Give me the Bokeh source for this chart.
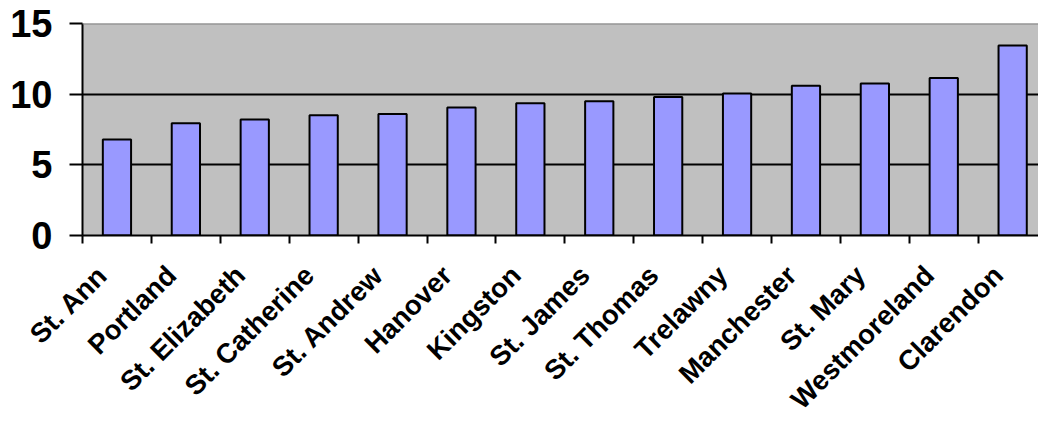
import math
from bokeh.plotting import figure
from bokeh.models import FixedTicker, Range1d, Span
from bokeh.embed import file_html
from bokeh.resources import INLINE

parishes = ["St. Ann", "Portland", "St. Elizabeth", "St. Catherine", "St. Andrew",
            "Hanover", "Kingston", "St. James", "St. Thomas", "Trelawny",
            "Manchester", "St. Mary", "Westmoreland", "Clarendon"]
values = [6.8, 7.95, 8.2, 8.5, 8.6, 9.05, 9.35, 9.5, 9.8, 10.05, 10.6, 10.75, 11.15, 13.45]
y_ticks = [0, 5, 10, 15]

idx = list(range(len(parishes)))
FONT = "Liberation Sans"

p = figure(width=1038, height=429, output_backend="svg", toolbar_location=None,
           x_range=Range1d(-0.5, 13.375), y_range=Range1d(0, 15),
           min_border_top=23, min_border_left=82, min_border_right=0,
           min_border_bottom=194)
p.background_fill_color = "#C0C0C0"
p.border_fill_color = "white"
p.outline_line_color = None

p.vbar(x=idx, top=values, bottom=0, width=0.41, fill_color="#9999FF",
       line_color="black", line_width=2)

# grid
p.xgrid.visible = False
p.ygrid.ticker = FixedTicker(ticks=[5, 10])
p.ygrid.grid_line_color = "black"
p.ygrid.grid_line_width = 2
p.add_layout(Span(location=15, dimension="width", line_color="#808080", line_width=2))

# y axis
ya = p.yaxis[0]
ya.ticker = FixedTicker(ticks=y_ticks)
ya.axis_line_color = "black"
ya.axis_line_width = 2
ya.major_tick_line_color = "black"
ya.major_tick_line_width = 2
ya.major_tick_out = 13
ya.major_tick_in = 0
ya.minor_tick_line_color = None
ya.major_label_text_font = FONT
ya.major_label_text_font_style = "bold"
ya.major_label_text_font_size = "38px"
ya.major_label_text_color = "black"
ya.major_label_standoff = 17

# x axis: labels end slightly left of bar centres, tick marks at category boundaries
label_pos = [round(i - 0.21, 2) for i in idx]
xa = p.xaxis[0]
xa.ticker = FixedTicker(ticks=label_pos, minor_ticks=[i - 0.5 for i in range(len(parishes) + 1)])
xa.major_label_overrides = {pos: name for pos, name in zip(label_pos, parishes)}
xa.axis_line_color = "black"
xa.axis_line_width = 2
xa.major_tick_out = 0
xa.major_tick_in = 0
xa.major_tick_line_color = None
xa.minor_tick_line_color = "black"
xa.minor_tick_line_width = 2
xa.minor_tick_out = 8
xa.minor_tick_in = 0
xa.major_label_orientation = math.pi / 4
xa.major_label_text_font = FONT
xa.major_label_text_font_style = "bold"
xa.major_label_text_font_size = "27.5px"
xa.major_label_text_color = "black"
xa.major_label_standoff = 27

open("out.html", "w").write(file_html(p, INLINE))
